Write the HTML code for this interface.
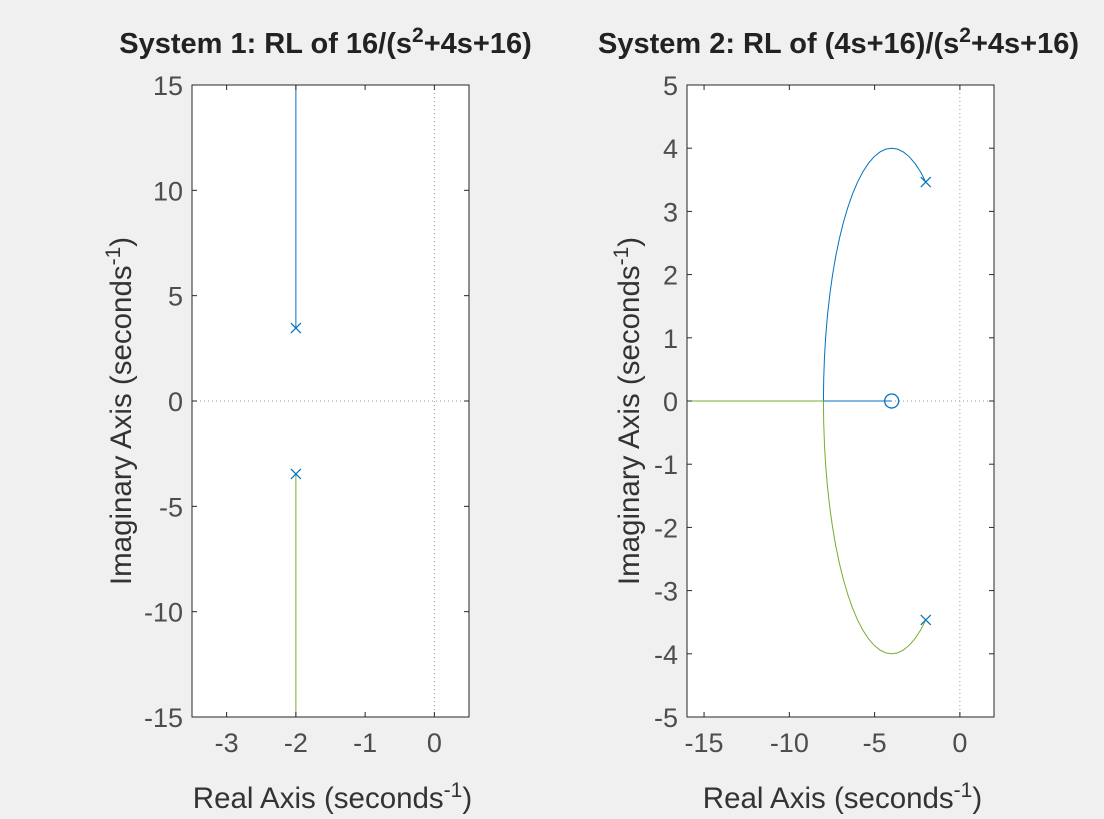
<!DOCTYPE html>
<html><head><meta charset="utf-8"><style>
html,body{margin:0;padding:0;background:#f0f0f0;}
svg{display:block;font-family:"Liberation Sans",sans-serif;}
</style></head><body>
<svg id="c" width="1104" height="819" xmlns="http://www.w3.org/2000/svg"></svg>
<script>
// System 1 data
const s1Poles=[[-2,3.464],[-2,-3.464]];
const s1BlueRe=[-2,-2];const s1BlueIm=[3.464,15.5];
const s1GreenRe=[-2,-2];const s1GreenIm=[-3.464,-15.5];
const s1XTicks=[-3,-2,-1,0];const s1YTicks=[15,10,5,0,-5,-10,-15];
// System 2 data
const s2Poles=[[-2,3.464],[-2,-3.464]];const s2Zeros=[[-4,0]];
const s2BlueRe=[-2,-2.305,-2.632,-2.965,-3.305,-3.651,-4,-4.349,-4.695,-5.035,-5.368,-5.690,-6,-6.294,-6.571,-6.828,-7.064,-7.276,-7.464,-7.625,-7.759,-7.864,-7.939,-7.985,-8,-4];
const s2BlueIm=[3.464,3.625,3.759,3.864,3.939,3.985,4,3.985,3.939,3.864,3.759,3.625,3.464,3.276,3.064,2.828,2.571,2.294,2,1.690,1.368,1.035,0.695,0.349,0,0];
const s2GreenRe=[-2,-2.305,-2.632,-2.965,-3.305,-3.651,-4,-4.349,-4.695,-5.035,-5.368,-5.690,-6,-6.294,-6.571,-6.828,-7.064,-7.276,-7.464,-7.625,-7.759,-7.864,-7.939,-7.985,-8,-16];
const s2GreenIm=[-3.464,-3.625,-3.759,-3.864,-3.939,-3.985,-4,-3.985,-3.939,-3.864,-3.759,-3.625,-3.464,-3.276,-3.064,-2.828,-2.571,-2.294,-2,-1.690,-1.368,-1.035,-0.695,-0.349,0,0];
const s2XTicks=[-15,-10,-5,0];const s2YTicks=[5,4,3,2,1,0,-1,-2,-3,-4,-5];

const NS="http://www.w3.org/2000/svg";const svg=document.getElementById('c');
function el(t,a,p){const e=document.createElementNS(NS,t);for(const k in a)e.setAttribute(k,a[k]);(p||svg).appendChild(e);return e;}
function plot(o){
 const g=el('g',{});
 
 
 const X=v=>o.x0+(v-o.xmin)/(o.xmax-o.xmin)*(o.x1-o.x0);
 const Y=v=>o.y1-(v-o.ymin)/(o.ymax-o.ymin)*(o.y1-o.y0);
 const bg=el('rect',{x:o.x0,y:o.y0,width:o.x1-o.x0,height:o.y1-o.y0,fill:'#fff'},g);
 
 el('line',{x1:X(0),x2:X(0),y1:o.y0,y2:o.y1,stroke:'#999','stroke-width':1,'stroke-dasharray':'1,3'},g);
 el('line',{x1:o.x0,x2:o.x1,y1:Y(0),y2:Y(0),stroke:'#999','stroke-width':1,'stroke-dasharray':'1,3'},g);
 const cp=el('clipPath',{id:'cl'+o.name},g);el('rect',{x:o.x0,y:o.y0,width:o.x1-o.x0,height:o.y1-o.y0},cp);
 const series=[[o.bRe,o.bIm,'#0072BD','blue-branch'],[o.gRe,o.gIm,'#77AC30','green-branch']];
 for(const [re,im,c,n] of series){
  const d=re.map((v,i)=>(i?'L':'M')+X(v).toFixed(2)+','+Y(im[i]).toFixed(2)).join('');
  const p=el('path',{d:d,fill:'none',stroke:c,'stroke-width':1,'clip-path':'url(#cl'+o.name+')'},g);
  
 }
 for(const [r,i] of o.poles){const px=X(r),py=Y(i);
  const p=el('path',{d:`M${px-5},${py-5}L${px+5},${py+5}M${px-5},${py+5}L${px+5},${py-5}`,stroke:'#0072BD','stroke-width':1.2},g);
  }
 for(const [r,i] of (o.zeros||[])){
  const z=el('circle',{cx:X(r),cy:Y(i),r:7,fill:'none',stroke:'#0072BD','stroke-width':1.3},g);
  }
 el('rect',{x:o.x0,y:o.y0,width:o.x1-o.x0,height:o.y1-o.y0,fill:'none',stroke:'#262626','stroke-width':1},g);
 for(const t of o.xt){const x=X(t);
  el('line',{x1:x,x2:x,y1:o.y1,y2:o.y1-5,stroke:'#262626'},g);el('line',{x1:x,x2:x,y1:o.y0,y2:o.y0+5,stroke:'#262626'},g);
  const tx=el('text',{x:x,y:o.y1+35,'text-anchor':'middle','font-size':27,fill:'#4d4d4d'},g);tx.textContent=t;
  }
 for(const t of o.yt){const y=Y(t);
  el('line',{x1:o.x0,x2:o.x0+5,y1:y,y2:y,stroke:'#262626'},g);el('line',{x1:o.x1,x2:o.x1-5,y1:y,y2:y,stroke:'#262626'},g);
  const tx=el('text',{x:o.x0-9,y:y+10,'text-anchor':'end','font-size':27,fill:'#4d4d4d'},g);tx.textContent=t;
  }
 const ti=el('text',{x:(o.x0+o.x1)/2+o.tdx,y:53,'text-anchor':'middle','font-size':29,'font-weight':'bold',fill:'#222'},g);
 ti.innerHTML=o.title;
 const xl=el('text',{x:(o.x0+o.x1)/2+2,y:808,'text-anchor':'middle','font-size':29.5,fill:'#333'},g);
 xl.innerHTML='Real Axis (seconds<tspan dy="-11" font-size="21">-1</tspan><tspan dy="11">)</tspan>';
 
 const yl=el('text',{x:0,y:0,'text-anchor':'middle','font-size':29.5,fill:'#333',transform:`translate(${o.ylx},${(o.y0+o.y1)/2+10}) rotate(-90)`},g);
 yl.innerHTML='Imaginary Axis (seconds<tspan dy="-11" font-size="21">-1</tspan><tspan dy="11">)</tspan>';
 
}
plot({name:'system1-plot',x0:192,x1:469,y0:85,y1:717,xmin:-3.5,xmax:0.5,ymin:-15,ymax:15,
 bRe:s1BlueRe,bIm:s1BlueIm,gRe:s1GreenRe,gIm:s1GreenIm,poles:s1Poles,xt:s1XTicks,yt:s1YTicks,ylx:131,tdx:-5,
 title:'System 1: RL of 16/(s<tspan dy="-11" font-size="21">2</tspan><tspan dy="11">+4s+16)</tspan>'});
plot({name:'system2-plot',x0:687,x1:994,y0:85,y1:717,xmin:-16,xmax:2,ymin:-5,ymax:5,
 bRe:s2BlueRe,bIm:s2BlueIm,gRe:s2GreenRe,gIm:s2GreenIm,poles:s2Poles,zeros:s2Zeros,xt:s2XTicks,yt:s2YTicks,ylx:639,tdx:-2,
 title:'System 2: RL of (4s+16)/(s<tspan dy="-11" font-size="21">2</tspan><tspan dy="11">+4s+16)</tspan>'});
</script>
</body></html>
